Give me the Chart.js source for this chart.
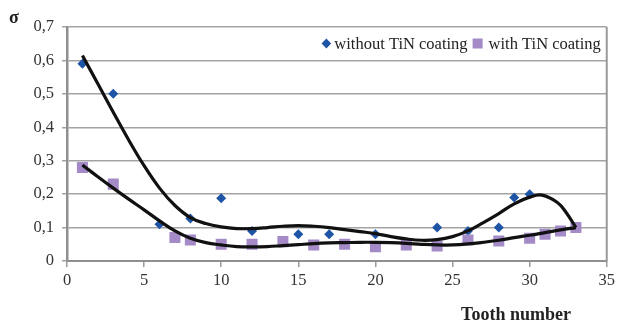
<!DOCTYPE html>
<html><head><meta charset="utf-8">
<script src="https://cdn.jsdelivr.net/npm/chart.js@4/dist/chart.umd.min.js"></script>
<style>html,body{margin:0;padding:0;background:#fff}#wrap{width:619px;height:326px;position:relative}canvas{display:block}</style>
</head><body><div id="wrap"><canvas id="c" width="619" height="326"></canvas></div>
<script>
// ---- data ----
const seriesLabels = ['without TiN coating', 'with TiN coating'];
const toothNoCoat = [1, 3, 6, 8, 10, 12, 15, 17, 20, 24, 26, 28, 29, 30, 33];
const sigmaNoCoat = [0.59, 0.50, 0.11, 0.127, 0.188, 0.09, 0.08, 0.08, 0.08, 0.10, 0.09, 0.10, 0.19, 0.20, 0.10];
const toothTiN = [1, 3, 7, 8, 10, 12, 14, 16, 18, 20, 22, 24, 26, 28, 30, 31, 32, 33];
const sigmaTiN = [0.28, 0.23, 0.07, 0.063, 0.05, 0.05, 0.058, 0.048, 0.05, 0.043, 0.048, 0.045, 0.063, 0.06, 0.068, 0.08, 0.09, 0.10];
// trend curves
const trendNoCoatX = [1, 2, 3, 4, 5, 6, 7, 8, 9, 10, 11, 12, 13, 14, 15, 16, 17, 18, 19, 20, 21, 22, 23, 24, 25, 26, 27, 28, 29, 30, 30.8, 31.8, 32.4, 33];
const trendNoCoatY = [0.615, 0.53, 0.445, 0.362, 0.285, 0.218, 0.166, 0.13, 0.112, 0.102, 0.097, 0.097, 0.1, 0.104, 0.106, 0.104, 0.1, 0.094, 0.088, 0.082, 0.073, 0.066, 0.062, 0.064, 0.073, 0.09, 0.115, 0.142, 0.171, 0.191, 0.197, 0.175, 0.143, 0.10];
const trendTiNX = [1, 2, 3, 4, 5, 6, 7, 8, 9, 10, 11, 12, 13, 14, 15, 16, 17, 18, 19, 20, 21, 22, 23, 24, 25, 26, 27, 28, 29, 30, 31, 32, 33];
const trendTiNY = [0.287, 0.252, 0.218, 0.185, 0.153, 0.12, 0.09, 0.068, 0.055, 0.048, 0.043, 0.042, 0.043, 0.046, 0.049, 0.052, 0.054, 0.055, 0.056, 0.056, 0.055, 0.053, 0.05, 0.048, 0.048, 0.051, 0.056, 0.062, 0.07, 0.077, 0.085, 0.093, 0.10];
const yTickLabels = ['0', '0,1', '0,2', '0,3', '0,4', '0,5', '0,6', '0,7'];
const xTickLabels = ['0', '5', '10', '15', '20', '25', '30', '35'];
const yAxisSymbol = 'σ';
const xAxisTitle = 'Tooth number';

const BLUE = '#1E54A6';
const PURPLE = '#A48BC8';
const FONT = '"Liberation Serif", "Times New Roman", serif';

const pts = (xs, ys) => xs.map((x, i) => ({x: x, y: ys[i]}));

const extraText = {
  id: 'extraText',
  afterDraw(chart) {
    const ctx = chart.ctx, a = chart.chartArea;
    ctx.save();
    // right border of plot
    ctx.strokeStyle = '#9a9a9a';
    ctx.lineWidth = 2;
    ctx.beginPath(); ctx.moveTo(a.right, a.top); ctx.lineTo(a.right, a.bottom); ctx.stroke();
    // sigma
    ctx.fillStyle = '#222';
    ctx.font = 'bold 18px ' + FONT;
    ctx.textAlign = 'center'; ctx.textBaseline = 'middle';
    ctx.fillText(yAxisSymbol, 14, 18);
    // x title
    ctx.font = 'bold 18px ' + FONT;
    ctx.fillText(xAxisTitle, 516, 315);
    // legend inside plot
    ctx.font = '16.5px ' + FONT;
    ctx.textAlign = 'left';
    const w1 = ctx.measureText(seriesLabels[0]).width;
    const w2 = ctx.measureText(seriesLabels[1]).width;
    const end = a.right - 6;
    const t2 = end - w2;
    const sqR = t2 - 6, sqL = sqR - 10;
    const t1e = sqL - 5, t1 = t1e - w1;
    const dc = t1 - 3.5 - 4.5;
    const my = a.top + 16.5;
    ctx.fillStyle = BLUE;
    ctx.beginPath();
    ctx.moveTo(dc, my - 5); ctx.lineTo(dc + 4.8, my); ctx.lineTo(dc, my + 5); ctx.lineTo(dc - 4.8, my); ctx.closePath(); ctx.fill();
    ctx.fillStyle = PURPLE;
    ctx.fillRect(sqL, my - 5, 10, 10);
    ctx.fillStyle = '#222';
    ctx.fillText(seriesLabels[0], t1, my + 1);
    ctx.fillText(seriesLabels[1], t2, my + 1);
    ctx.restore();
  }
};

new Chart(document.getElementById('c'), {
  type: 'scatter',
  data: {
    datasets: [
      {label: 'trend1', data: pts(trendNoCoatX, trendNoCoatY), showLine: true, borderColor: '#111', borderWidth: 3.2, pointRadius: 0, tension: 0.4, order: 0},
      {label: 'trend2', data: pts(trendTiNX, trendTiNY), showLine: true, borderColor: '#111', borderWidth: 3.2, pointRadius: 0, tension: 0.4, order: 0},
      {label: seriesLabels[1], data: pts(toothTiN, sigmaTiN), pointStyle: 'rect', pointRadius: 7.8, backgroundColor: PURPLE, borderWidth: 0, order: 1},
      {label: seriesLabels[0], data: pts(toothNoCoat, sigmaNoCoat), pointStyle: 'rectRot', pointRadius: 5, backgroundColor: BLUE, borderWidth: 0, order: 2}
    ]
  },
  options: {
    responsive: false,
    animation: false,
    layout: {padding: {top: 27, right: 9, left: 0, bottom: 0}},
    plugins: {legend: {display: false}, tooltip: {enabled: false}},
    scales: {
      x: {
        type: 'linear', min: 0, max: 35,
        afterFit: s => { s.height = 65; },
        ticks: {stepSize: 5, color: '#333', font: {family: FONT, size: 16.5}, padding: 4, maxRotation: 0,
          callback: (v, i) => xTickLabels[i]},
        grid: {drawOnChartArea: false, drawTicks: true, tickLength: 6, color: '#9a9a9a', lineWidth: 1.5},
        border: {color: '#8f8f8f', width: 2}
      },
      y: {
        min: 0, max: 0.7,
        afterFit: s => { s.width = 67; },
        ticks: {stepSize: 0.1, color: '#333', font: {family: FONT, size: 16.5}, padding: 8,
          callback: (v, i) => yTickLabels[i]},
        grid: {color: '#a3a3a3', lineWidth: 1.5, tickLength: 5},
        border: {color: '#8f8f8f', width: 2.5}
      }
    }
  },
  plugins: [extraText]
});
</script>
</body></html>
